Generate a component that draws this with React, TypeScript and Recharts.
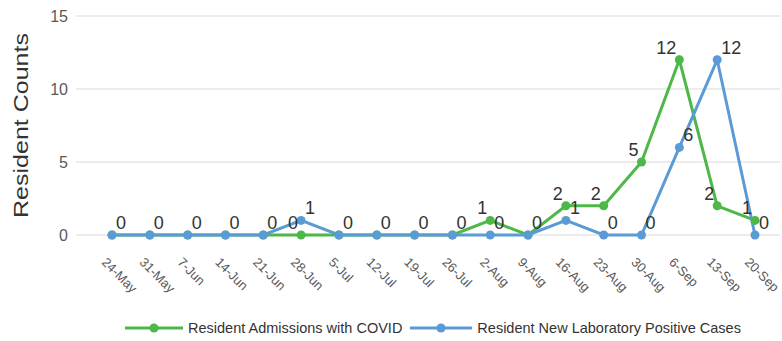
import React from "react";
import { LineChart, Line, XAxis, YAxis, CartesianGrid, LabelList } from "recharts";

const weeks = [
  "24-May", "31-May", "7-Jun", "14-Jun", "21-Jun", "28-Jun", "5-Jul", "12-Jul", "19-Jul",
  "26-Jul", "2-Aug", "9-Aug", "16-Aug", "23-Aug", "30-Aug", "6-Sep", "13-Sep", "20-Sep",
];
const admissions = [0, 0, 0, 0, 0, 0, 0, 0, 0, 0, 1, 0, 2, 2, 5, 12, 2, 1];
const labPositive = [0, 0, 0, 0, 0, 1, 0, 0, 0, 0, 0, 0, 1, 0, 0, 6, 12, 0];
const yTicks = [0, 5, 10, 15];

const GREEN = "#4db848";
const BLUE = "#5b9bd5";
const FONT = "'Liberation Sans', Arial, sans-serif";

const data = weeks.map((w, i) => ({ week: w, adm: admissions[i], lab: labPositive[i] }));

function WeekTick({ x, y, payload }: any) {
  return (
    <g transform={`translate(${x - 11},${y + 20}) rotate(45)`}>
      <text x={0} y={0} textAnchor="start" fontSize={13} fill="#595959" fontFamily={FONT}>
        {payload.value}
      </text>
    </g>
  );
}

function blueLabel(p: any) {
  return (
    <text x={p.x + 4} y={p.y - 6} textAnchor="start" fontSize={18} fill="#333" fontFamily={FONT}>
      {p.value}
    </text>
  );
}

function greenLabel(p: any) {
  // same value as the blue point sits on top of it, one label is enough
  if (labPositive[p.index] === p.value) return null;
  return (
    <text x={p.x - 3} y={p.y - 6} textAnchor="end" fontSize={18} fill="#333" fontFamily={FONT}>
      {p.value}
    </text>
  );
}

function LegendItem({ color, text, w }: { color: string; text: string; w: number }) {
  return (
    <div style={{ display: "flex", alignItems: "center" }}>
      <svg width={w} height={12}>
        <line x1={0} y1={6} x2={w} y2={6} stroke={color} strokeWidth={3} />
        <circle cx={w / 2} cy={6} r={4.5} fill={color} />
      </svg>
      <span style={{ marginLeft: 5, fontSize: 14.5, color: "#333", fontFamily: FONT }}>{text}</span>
    </div>
  );
}

export default function App() {
  return (
    <div style={{ position: "absolute", left: 0, top: 0, width: 782, height: 341, background: "#fff" }}>
      <LineChart width={782} height={305} data={data} margin={{ top: 16, right: 2, left: 0, bottom: 0 }}>
        <CartesianGrid horizontal vertical={false} stroke="#d9d9d9" />
        <XAxis
          dataKey="week"
          interval={0}
          height={70}
          padding={{ left: 36, right: 25 }}
          axisLine={false}
          tickLine={false}
          tick={<WeekTick />}
        />
        <YAxis
          width={76}
          domain={[0, 15]}
          ticks={yTicks}
          axisLine={false}
          tickLine={false}
          tick={{ fontSize: 16, fill: "#595959", fontFamily: FONT }}
          label={({ viewBox }: any) => (
            <text
              x={0}
              y={0}
              transform={`translate(28,${viewBox.y + viewBox.height / 2}) rotate(-90)`}
              textAnchor="middle"
              fontSize={21}
              fill="#333"
              fontFamily={FONT}
              textLength={185}
              lengthAdjust="spacingAndGlyphs"
            >
              Resident Counts
            </text>
          )}
        />
        <Line
          dataKey="adm"
          stroke={GREEN}
          strokeWidth={3}
          dot={{ r: 4.5, fill: GREEN, stroke: GREEN, strokeWidth: 0 }}
          activeDot={false}
          isAnimationActive={false}
        >
          <LabelList dataKey="adm" content={greenLabel} />
        </Line>
        <Line
          dataKey="lab"
          stroke={BLUE}
          strokeWidth={3}
          dot={{ r: 4.5, fill: BLUE, stroke: BLUE, strokeWidth: 0 }}
          activeDot={false}
          isAnimationActive={false}
        >
          <LabelList dataKey="lab" content={blueLabel} />
        </Line>
      </LineChart>
      <div style={{ position: "absolute", left: 125, top: 320, display: "flex", gap: 8 }}>
        <LegendItem color={GREEN} text="Resident Admissions with COVID" w={58} />
        <LegendItem color={BLUE} text="Resident New Laboratory Positive Cases" w={62} />
      </div>
    </div>
  );
}
